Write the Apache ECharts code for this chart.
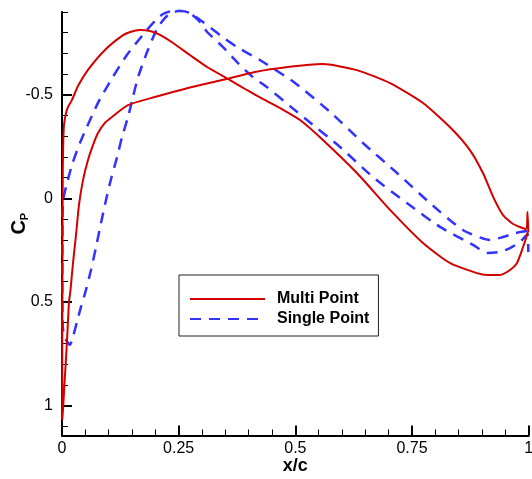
<!DOCTYPE html>
<html>
<head>
<meta charset="utf-8">
<script src="https://cdn.jsdelivr.net/npm/echarts@6/dist/echarts.min.js"></script>
<style>
  html, body { margin: 0; padding: 0; background: #fff; }
  #chart { width: 532px; height: 479px; }
</style>
</head>
<body>
<div id="chart"></div>
<script>
// Pressure coefficient distributions, x/c along the chord, Cp plotted inverted.

// Multi Point: branch from the trailing edge over the forward peak to the leading edge
const multiFwdX  = [0.9985, 0.988, 0.975, 0.960, 0.9385, 0.911, 0.889, 0.831, 0.7735, 0.703, 0.632, 0.559, 0.510, 0.471, 0.431, 0.396, 0.360, 0.311, 0.274, 0.238, 0.210, 0.1886, 0.167, 0.146, 0.1286, 0.092, 0.0557, 0.0343, 0.0214, 0.0129, 0.0086, 0.0043, 0.0028, 0.0017, 0.0011, 0.0006, 0.0004];
const multiFwdCp = [0.163, 0.235, 0.312, 0.346, 0.370, 0.370, 0.361, 0.312, 0.216, 0.056, -0.122, -0.282, -0.378, -0.431, -0.479, -0.523, -0.571, -0.634, -0.692, -0.750, -0.789, -0.808, -0.813, -0.803, -0.784, -0.716, -0.620, -0.542, -0.475, -0.441, -0.412, -0.354, -0.282, -0.137, 0.201, 0.636, 1.070];
// Multi Point: branch from the leading edge over the aft plateau back to the trailing edge
const multiAftX  = [0.0021, 0.0058, 0.0096, 0.0129, 0.015, 0.0182, 0.0236, 0.030, 0.0364, 0.045, 0.0557, 0.0664, 0.0771, 0.092, 0.107, 0.1414, 0.199, 0.270, 0.343, 0.4135, 0.484, 0.559, 0.632, 0.703, 0.7735, 0.831, 0.874, 0.902, 0.924, 0.945, 0.9665, 0.994, 0.9975, 0.9991];
const multiAftCp = [1.022, 0.877, 0.733, 0.588, 0.501, 0.443, 0.312, 0.177, 0.032, -0.088, -0.185, -0.257, -0.315, -0.364, -0.393, -0.450, -0.489, -0.533, -0.571, -0.610, -0.634, -0.648, -0.619, -0.556, -0.460, -0.344, -0.233, -0.122, -0.006, 0.081, 0.124, 0.148, 0.066, 0.163];

// Single Point: branch from the trailing edge over the peak down to the leading edge
const singleFwdX  = [0.9964, 0.9707, 0.945, 0.917, 0.859, 0.7885, 0.718, 0.645, 0.5745, 0.4993, 0.424, 0.375, 0.3386, 0.302, 0.274, 0.255, 0.2357, 0.2164, 0.199, 0.1714, 0.139, 0.109, 0.0771, 0.0386, 0.0214, 0.0086, 0.0032, 0.0011, 0.0006, 0.0011, 0.0032, 0.0086, 0.0171];
const singleFwdCp = [0.158, 0.168, 0.187, 0.201, 0.153, 0.023, -0.122, -0.267, -0.417, -0.557, -0.668, -0.730, -0.788, -0.851, -0.895, -0.904, -0.904, -0.890, -0.856, -0.784, -0.692, -0.586, -0.461, -0.268, -0.161, -0.055, 0.0, 0.057, 0.298, 0.588, 0.650, 0.683, 0.707];
// Single Point: branch from the leading edge back over the peak to the trailing edge
const singleAftX  = [0.0236, 0.032, 0.0407, 0.0514, 0.0621, 0.0729, 0.0836, 0.0943, 0.105, 0.118, 0.1286, 0.1414, 0.152, 0.163, 0.184, 0.2057, 0.227, 0.2486, 0.270, 0.296, 0.311, 0.345, 0.375, 0.409, 0.439, 0.4885, 0.525, 0.5957, 0.666, 0.739, 0.810, 0.8806, 0.911, 0.9385, 0.960, 0.9814, 0.9975, 0.9991];
const singleAftCp = [0.668, 0.597, 0.524, 0.442, 0.346, 0.235, 0.119, 0.008, -0.093, -0.199, -0.296, -0.392, -0.489, -0.585, -0.716, -0.827, -0.885, -0.904, -0.900, -0.851, -0.803, -0.730, -0.658, -0.585, -0.537, -0.445, -0.378, -0.248, -0.103, 0.023, 0.138, 0.225, 0.264, 0.259, 0.240, 0.211, 0.172, 0.259];

// Axis ticks
const xTicks = [0, 0.25, 0.5, 0.75, 1];
const yMajorTicks = [-0.5, 0, 0.5, 1];
const yRange = [-0.9, 1.145];

const seriesNames = ['Multi Point', 'Single Point'];

function zipPoints(xs, ys) {
  return xs.map((x, i) => [x, ys[i]]);
}

const multiLoop = zipPoints(multiFwdX, multiFwdCp).concat(zipPoints(multiAftX, multiAftCp));
const singleLoop = zipPoints(singleFwdX, singleFwdCp).concat(zipPoints(singleAftX, singleAftCp));

const FONT = '"Liberation Sans", Arial, Helvetica, sans-serif';
const black = '#000';

const chart = echarts.init(document.getElementById('chart'), null, { renderer: 'canvas' });

chart.setOption({
  animation: false,
  backgroundColor: '#fff',
  grid: { left: 62, right: 3.3, top: 11.9, bottom: 43.5, containLabel: false, outerBoundsMode: 'none' },
  legend: {
    orient: 'vertical',
    left: 179,
    top: 275,
    padding: [16, 9, 9, 10],
    itemWidth: 75,
    itemHeight: 16,
    itemGap: 4,
    backgroundColor: '#fff',
    borderColor: '#222',
    borderWidth: 1,
    borderRadius: 0,
    data: seriesNames,
    itemStyle: { opacity: 0 },
    textStyle: { fontFamily: FONT, fontSize: 16, fontWeight: 'bold', color: black, padding: [0, 0, 0, 7] }
  },
  xAxis: {
    type: 'value',
    min: xTicks[0],
    max: xTicks[xTicks.length - 1],
    interval: 0.25,
    name: 'x/c',
    nameLocation: 'middle',
    nameGap: 22,
    nameMoveOverlap: false,
    nameTextStyle: { fontFamily: FONT, fontSize: 18, fontWeight: 'bold', color: black },
    axisLine: { show: true, onZero: false, lineStyle: { color: black, width: 2 } },
    axisTick: { show: true, inside: true, length: 10, lineStyle: { color: black, width: 2 } },
    minorTick: { show: true, splitNumber: 5, length: 6, lineStyle: { color: black, width: 1 } },
    axisLabel: { fontFamily: FONT, fontSize: 16, color: black, margin: 5 },
    splitLine: { show: false }
  },
  yAxis: [
    {
      // axis line and 0.1 minor ticks
      type: 'value',
      inverse: true,
      min: yRange[0],
      max: yRange[1],
      interval: 0.1,
      position: 'left',
      axisLine: { show: true, onZero: false, lineStyle: { color: black, width: 2 } },
      axisTick: { show: true, inside: true, length: 6, lineStyle: { color: black, width: 1 } },
      axisLabel: { show: false },
      splitLine: { show: false }
    },
    {
      // major ticks, labels and title
      type: 'value',
      inverse: true,
      min: yRange[0],
      max: yRange[1],
      interval: 0.1,
      position: 'left',
      name: '{c|C}{p|P}',
      nameLocation: 'middle',
      nameRotate: 90,
      nameGap: 32,
      nameMoveOverlap: false,
      nameTextStyle: {
        color: black,
        rich: {
          c: { fontFamily: FONT, fontSize: 20, fontWeight: 'bold', color: black, lineHeight: 22, verticalAlign: 'middle' },
          p: { fontFamily: FONT, fontSize: 11, fontWeight: 'bold', color: black, lineHeight: 22, verticalAlign: 'bottom', padding: [6, 0, 0, 0] }
        }
      },
      axisLine: { show: false },
      axisTick: { show: true, inside: true, length: 10, customValues: yMajorTicks, lineStyle: { color: black, width: 2 } },
      axisLabel: { show: true, customValues: yMajorTicks, fontFamily: FONT, fontSize: 16, color: black, margin: 9 },
      splitLine: { show: false }
    }
  ],
  series: [
    {
      name: seriesNames[0],
      type: 'line',
      yAxisIndex: 0,
      data: multiLoop,
      symbol: 'none',
      smooth: 0.2,
      clip: false,
      color: '#d40000',
      lineStyle: { color: '#d40000', width: 2 },
      z: 3
    },
    {
      name: seriesNames[1],
      type: 'line',
      yAxisIndex: 0,
      data: singleLoop,
      symbol: 'none',
      smooth: 0.2,
      clip: false,
      color: '#3333ff',
      lineStyle: { color: '#3333ff', width: 2.5, type: [11, 8] },
      z: 2
    }
  ]
});
</script>
</body>
</html>
